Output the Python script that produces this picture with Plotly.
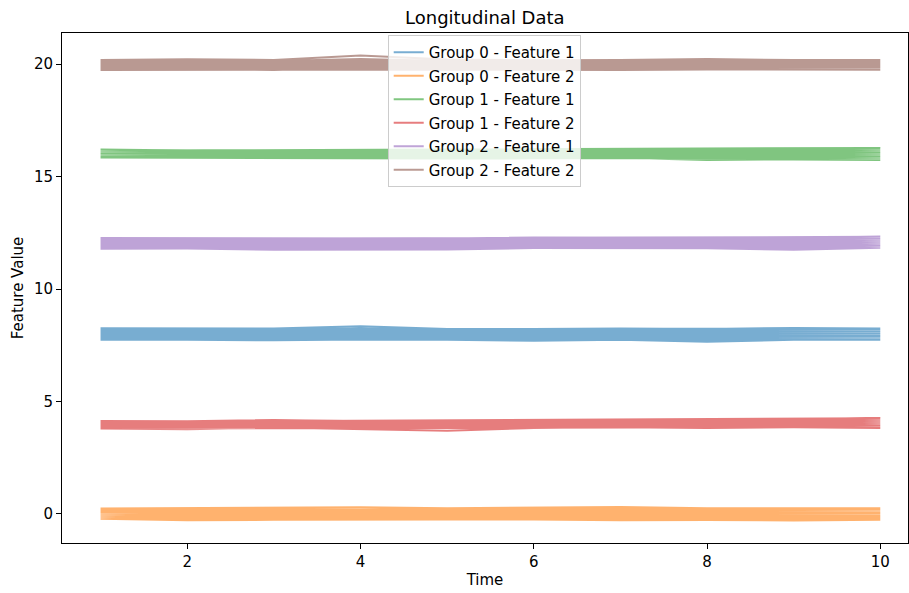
import plotly.graph_objects as go

times = [1, 2, 3, 4, 5, 6, 7, 8, 9, 10]

labels = ["Group 0 - Feature 1", "Group 0 - Feature 2",
          "Group 1 - Feature 1", "Group 1 - Feature 2",
          "Group 2 - Feature 1", "Group 2 - Feature 2"]
colors = ["#1f77b4", "#ff7f0e", "#2ca02c", "#d62728", "#9467bd", "#8c564b"]

# each band: one row per subject, values at times 1..10
g0_f1 = [
    [8.26, 8.25, 8.24, 8.34, 8.22, 8.22, 8.24, 8.22, 8.27, 8.25],
    [8.20, 8.19, 8.18, 8.24, 8.17, 8.16, 8.18, 8.17, 8.20, 8.19],
    [8.14, 8.13, 8.12, 8.17, 8.11, 8.10, 8.12, 8.11, 8.14, 8.13],
    [8.08, 8.07, 8.06, 8.10, 8.05, 8.04, 8.06, 8.05, 8.08, 8.07],
    [8.02, 8.01, 8.00, 8.04, 7.99, 7.98, 8.00, 7.99, 8.02, 8.01],
    [7.96, 7.95, 7.94, 7.98, 7.93, 7.92, 7.94, 7.93, 7.96, 7.95],
    [7.90, 7.89, 7.88, 7.92, 7.87, 7.86, 7.88, 7.86, 7.90, 7.89],
    [7.84, 7.83, 7.82, 7.86, 7.81, 7.80, 7.82, 7.79, 7.84, 7.83],
    [7.78, 7.77, 7.76, 7.80, 7.76, 7.72, 7.77, 7.70, 7.78, 7.77],
    [7.74, 7.75, 7.72, 7.76, 7.74, 7.70, 7.75, 7.66, 7.74, 7.75],
]
g0_f2 = [
    [0.24, 0.25, 0.28, 0.30, 0.26, 0.30, 0.31, 0.26, 0.25, 0.26],
    [0.19, 0.19, 0.21, 0.22, 0.20, 0.22, 0.23, 0.20, 0.19, 0.20],
    [0.14, 0.13, 0.15, 0.16, 0.14, 0.16, 0.17, 0.14, 0.13, 0.14],
    [0.09, 0.07, 0.09, 0.10, 0.08, 0.10, 0.11, 0.08, 0.07, 0.08],
    [0.04, 0.01, 0.03, 0.04, 0.02, 0.04, 0.05, 0.02, 0.01, 0.02],
    [-0.01, -0.05, -0.03, -0.02, -0.04, -0.02, -0.01, -0.04, -0.05, -0.04],
    [-0.06, -0.11, -0.09, -0.08, -0.10, -0.08, -0.07, -0.10, -0.11, -0.10],
    [-0.11, -0.17, -0.15, -0.14, -0.16, -0.14, -0.13, -0.16, -0.17, -0.16],
    [-0.16, -0.23, -0.21, -0.20, -0.21, -0.20, -0.20, -0.22, -0.23, -0.22],
    [-0.21, -0.28, -0.26, -0.24, -0.24, -0.24, -0.28, -0.27, -0.29, -0.26],
]
g1_f1 = [
    [16.20, 16.16, 16.17, 16.18, 16.17, 16.18, 16.20, 16.21, 16.23, 16.27],
    [16.15, 16.12, 16.12, 16.13, 16.12, 16.13, 16.15, 16.15, 16.17, 16.21],
    [16.10, 16.08, 16.07, 16.08, 16.07, 16.08, 16.10, 16.09, 16.11, 16.15],
    [16.06, 16.04, 16.02, 16.03, 16.02, 16.03, 16.05, 16.03, 16.05, 16.09],
    [16.02, 16.00, 15.97, 15.98, 15.97, 15.98, 16.00, 15.97, 15.99, 16.03],
    [15.98, 15.96, 15.92, 15.93, 15.92, 15.93, 15.95, 15.91, 15.93, 15.97],
    [15.94, 15.92, 15.87, 15.88, 15.87, 15.88, 15.90, 15.85, 15.87, 15.91],
    [15.90, 15.88, 15.83, 15.84, 15.83, 15.84, 15.86, 15.80, 15.82, 15.85],
    [15.87, 15.85, 15.81, 15.82, 15.80, 15.82, 15.84, 15.76, 15.78, 15.79],
    [15.85, 15.84, 15.80, 15.82, 15.80, 15.81, 15.83, 15.74, 15.76, 15.73],
]
g1_f2 = [
    [4.13, 4.12, 4.18, 4.12, 4.12, 4.12, 4.19, 4.14, 4.20, 4.26],
    [4.09, 4.08, 4.13, 4.08, 4.08, 4.08, 4.14, 4.10, 4.15, 4.21],
    [4.05, 4.04, 4.08, 4.04, 4.04, 4.04, 4.09, 4.06, 4.10, 4.16],
    [4.01, 4.00, 4.03, 4.00, 4.00, 4.00, 4.04, 4.02, 4.05, 4.11],
    [3.97, 3.96, 3.98, 3.96, 3.96, 3.96, 3.99, 3.98, 4.00, 4.06],
    [3.93, 3.92, 3.94, 3.92, 3.92, 3.92, 3.95, 3.94, 3.96, 4.01],
    [3.89, 3.88, 3.90, 3.88, 3.89, 3.88, 3.91, 3.90, 3.92, 3.96],
    [3.85, 3.84, 3.87, 3.84, 3.86, 3.85, 3.88, 3.86, 3.89, 3.91],
    [3.82, 3.80, 3.85, 3.80, 3.84, 3.83, 3.86, 3.83, 3.87, 3.86],
    [3.80, 3.77, 3.84, 3.76, 3.70, 3.82, 3.85, 3.82, 3.86, 3.82],
]
g2_f1 = [
    [12.27, 12.26, 12.26, 12.26, 12.25, 12.29, 12.29, 12.27, 12.28, 12.32],
    [12.22, 12.21, 12.21, 12.21, 12.20, 12.23, 12.23, 12.22, 12.23, 12.27],
    [12.17, 12.16, 12.15, 12.16, 12.15, 12.17, 12.17, 12.17, 12.17, 12.22],
    [12.11, 12.11, 12.10, 12.11, 12.10, 12.12, 12.12, 12.12, 12.12, 12.17],
    [12.06, 12.06, 12.04, 12.05, 12.04, 12.07, 12.06, 12.07, 12.06, 12.12],
    [12.01, 12.01, 11.99, 12.00, 11.99, 12.01, 12.01, 12.02, 12.01, 12.06],
    [11.96, 11.96, 11.93, 11.94, 11.93, 11.96, 11.95, 11.96, 11.95, 12.01],
    [11.90, 11.90, 11.88, 11.89, 11.88, 11.91, 11.90, 11.91, 11.89, 11.95],
    [11.85, 11.85, 11.82, 11.83, 11.82, 11.86, 11.85, 11.86, 11.82, 11.90],
    [11.79, 11.80, 11.74, 11.75, 11.76, 11.82, 11.81, 11.81, 11.74, 11.83],
]
g2_f2 = [
    [20.18, 20.21, 20.18, 20.38, 20.20, 20.17, 20.18, 20.22, 20.18, 20.18],
    [20.13, 20.15, 20.13, 20.22, 20.14, 20.12, 20.13, 20.16, 20.13, 20.13],
    [20.08, 20.10, 20.08, 20.15, 20.09, 20.07, 20.08, 20.10, 20.08, 20.08],
    [20.03, 20.05, 20.03, 20.09, 20.04, 20.02, 20.03, 20.05, 20.03, 20.03],
    [19.98, 20.00, 19.98, 20.03, 19.99, 19.97, 19.98, 20.00, 19.98, 19.98],
    [19.93, 19.95, 19.93, 19.98, 19.94, 19.92, 19.93, 19.95, 19.93, 19.93],
    [19.88, 19.90, 19.88, 19.93, 19.89, 19.87, 19.88, 19.90, 19.88, 19.88],
    [19.83, 19.85, 19.83, 19.88, 19.84, 19.82, 19.83, 19.85, 19.83, 19.83],
    [19.78, 19.80, 19.78, 19.84, 19.79, 19.77, 19.78, 19.80, 19.78, 19.78],
    [19.74, 19.76, 19.74, 19.85, 19.75, 19.73, 19.74, 19.76, 19.74, 19.74],
]

series = [g0_f1, g0_f2, g1_f1, g1_f2, g2_f1, g2_f2]

FONT = "DejaVu Sans"
fig = go.Figure()
for i, (name, col, subj) in enumerate(zip(labels, colors, series)):
    xs, ys = [], []
    for s in subj:
        xs += times
        ys += s
    fig.add_trace(go.Scatter(
        x=xs, y=ys, mode="lines", name=name,
        line=dict(color=col, width=2), opacity=0.6,
        legendgroup=f"g{i}",
    ))

axis_common = dict(
    showline=True, linecolor="black", linewidth=1, mirror=True,
    ticks="outside", ticklen=5, tickcolor="black", tickwidth=1,
    showgrid=False, zeroline=False,
    tickfont=dict(family=FONT, size=15, color="black"),
)

fig.update_layout(
    width=909, height=593,
    margin=dict(l=62, r=1, t=33, b=50),
    plot_bgcolor="white", paper_bgcolor="white",
    font=dict(family=FONT, size=15, color="black"),
    xaxis=dict(range=[0.555, 10.32], tickvals=[2, 4, 6, 8, 10],
               title=dict(text="Time", font=dict(family=FONT, size=15), standoff=4),
               **axis_common),
    yaxis=dict(range=[-1.29, 21.38], tickvals=[0, 5, 10, 15, 20],
               title=dict(text="Feature Value", font=dict(family=FONT, size=15), standoff=6),
               **axis_common),
    legend=dict(
        x=0.385, y=0.996, xanchor="left", yanchor="top",
        bgcolor="rgba(255,255,255,0.8)", bordercolor="#cccccc", borderwidth=1,
        font=dict(family=FONT, size=15, color="black"),
        traceorder="grouped", tracegroupgap=1,
    ),
    showlegend=True,
)

fig.add_annotation(
    text="Longitudinal Data", xref="paper", yref="paper", x=0.5, y=1,
    xanchor="center", yanchor="bottom", yshift=3, showarrow=False,
    font=dict(family=FONT, size=18, color="black"),
)

fig.write_html("out.html")
